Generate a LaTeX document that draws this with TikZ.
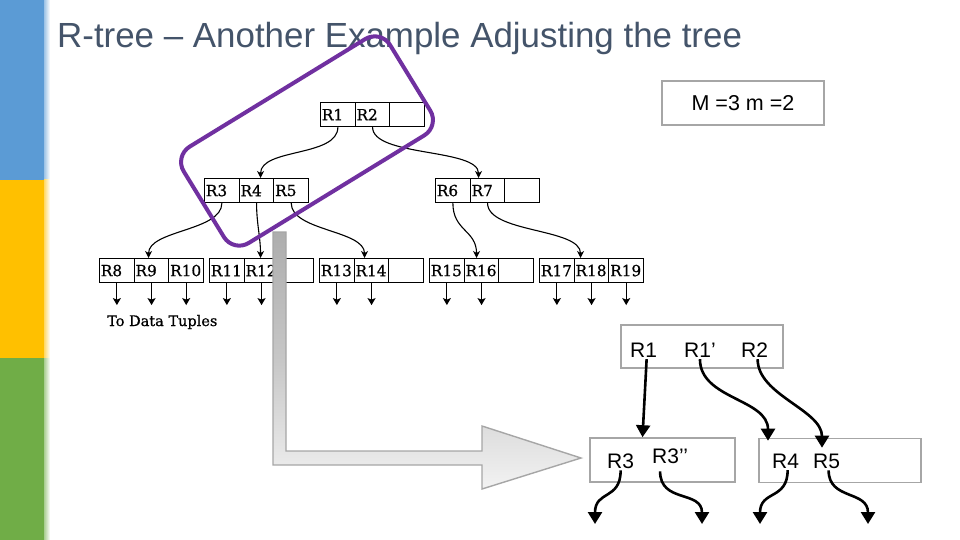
\documentclass[tikz,border=0pt]{standalone}
\usepackage{fontspec}
\setmainfont{Liberation Sans}
\newfontfamily\oldfont[FakeBold=0.8]{DejaVu Serif}
\usetikzlibrary{arrows.meta}
\definecolor{barblue}{HTML}{5B9BD5}
\definecolor{baryellow}{HTML}{FFC000}
\definecolor{bargreen}{HTML}{70AD47}
\definecolor{titlecol}{HTML}{44546A}
\definecolor{boxgray}{HTML}{A6A6A6}
\definecolor{selpurple}{HTML}{7030A0}
\tikzset{
  cellbox/.style={draw=black, line width=1.1pt, minimum height=24pt, text width=32pt,
    inner xsep=1.33pt, inner ysep=0pt, align=left, anchor=north west,
    font=\oldfont\fontsize{15.3}{17}\selectfont},
  treeedge/.style={draw=black, line width=1.1pt, -{Stealth[length=7pt,width=7pt,inset=2pt]}},
  dptr/.style={draw=black, line width=1.2pt, -{Stealth[length=7pt,width=8pt,inset=1.5pt]}},
  newbox/.style={draw=boxgray, line width=1.6pt, inner sep=0pt},
  newlabel/.style={inner sep=0pt, anchor=base west, font=\fontsize{21}{24}\selectfont},
  newedge/.style={draw=black, line width=2.6pt, -{Triangle[length=12pt,width=14pt]}},
}
\newcommand\mycell[4]{\node[cellbox] (#1) at (#2,#3) {#4};}
\begin{document}
\begin{tikzpicture}[x=1pt,y=-1pt]
\useasboundingbox (0,0) rectangle (960,540);
\fill[white] (0,0) rectangle (960,540);
% side bars
\fill[barblue] (0,0) rectangle (44,180);
\fill[baryellow] (0,180) rectangle (44,358);
\fill[bargreen] (0,358) rectangle (44,540);
\shade[left color=barblue!60, right color=white] (44,0) rectangle (50,180);
\shade[left color=baryellow!60, right color=white] (44,180) rectangle (50,358);
\shade[left color=bargreen!60, right color=white] (44,358) rectangle (50,540);
% title
\node[anchor=base west, inner sep=0pt, text=titlecol, font=\fontsize{34.9}{40}\selectfont] (title) at (57,48) {R-tree -- Another Example Adjusting the tree};
% M m box
\node[newbox, minimum width=162pt, minimum height=44pt, font=\fontsize{21.5}{24}\selectfont] (mbox) at (743,103) {M =3 m =2};
% old tree
\mycell{t1}{320}{102}{R1}
\mycell{t2}{354.67}{102}{R2}
\mycell{t3}{389.33}{102}{}
\mycell{a1}{204}{178}{R3}
\mycell{a2}{238.67}{178}{R4}
\mycell{a3}{273.33}{178}{R5}
\mycell{b1}{435}{178}{R6}
\mycell{b2}{469.67}{178}{R7}
\mycell{b3}{504.33}{178}{}
\mycell{c8}{99}{258}{R8}
\mycell{c9}{133.67}{258}{R9}
\mycell{c10}{168.33}{258}{R10}
\mycell{c11}{209}{258}{R11}
\mycell{c12}{243.67}{258}{R12}
\mycell{e12}{278.33}{258}{}
\mycell{c13}{319}{258}{R13}
\mycell{c14}{353.67}{258}{R14}
\mycell{e14}{388.33}{258}{}
\mycell{c15}{429}{258}{R15}
\mycell{c16}{463.67}{258}{R16}
\mycell{e16}{498.33}{258}{}
\mycell{c17}{539}{258}{R17}
\mycell{c18}{573.67}{258}{R18}
\mycell{c19}{608.33}{258}{R19}
\draw[treeedge] (t1.south) .. controls +(0,30) and +(0,-30) .. ([xshift=4pt]a2.north);
\draw[treeedge] (t2.south) .. controls +(0,30) and +(0,-30) .. ([xshift=-9pt]b2.north);
\draw[treeedge] (a1.south) .. controls +(0,28) and +(0,-28) .. ([xshift=-3pt]c9.north);
\draw[treeedge] (a2.south) .. controls +(0,20) and +(0,-20) .. ([xshift=-1pt]c12.north);
\draw[treeedge] (a3.south) .. controls +(0,28) and +(0,-28) .. ([xshift=-7pt]c14.north);
\draw[treeedge] (b1.south) .. controls +(0,28) and +(0,-28) .. ([xshift=-5pt]c16.north);
\draw[treeedge] (b2.south) .. controls +(0,30) and +(0,-30) .. ([xshift=-11pt]c18.north);
\foreach \c in {c8,c9,c10,c11,c12,c13,c14,c15,c16,c17,c18,c19}{
  \draw[dptr] (\c.south) -- ++(0,22);
}
\node[anchor=base west, inner sep=0pt, font=\oldfont\fontsize{14.5}{16}\selectfont] (tuples) at (107,326) {To Data Tuples};
% purple selection
\node[draw=selpurple, line width=4pt, rounded corners=18pt, minimum width=242pt, minimum height=113pt, rotate=31.5] (sel) at (307,141) {};
% gray bent arrow
\draw[draw=boxgray, line width=1.4pt, top color=black!32, bottom color=black!5, middle color=black!22]
  (273,232) -- (286,232) -- (286,451) -- (482,451) -- (482,426) -- (581,458) -- (482,489) -- (482,465)
  -- (273,465) [rounded corners=8pt] -- (273,300) [sharp corners] -- cycle;
% new tree
\node[newbox, minimum width=162pt, minimum height=43pt] (nb1) at (702,346.5) {};
\node[newbox, minimum width=145pt, minimum height=44pt] (nb2) at (662.5,460) {};
\node[newbox, minimum width=162pt, minimum height=44pt] (nb3) at (840,460.5) {};
\node[newlabel] (lR1) at (630,357) {R1};
\node[newlabel] (lR1p) at (684,357) {R1’};
\node[newlabel] (lR2) at (741,357) {R2};
\node[newlabel] (lR3) at (607,468) {R3};
\node[newlabel] (lR3p) at (652,463) {R3’’};
\node[newlabel] (lR4) at (772,468) {R4};
\node[newlabel] (lR5) at (813,468) {R5};
\coordinate (e3) at (595,524);
\coordinate (e3p) at (702,524);
\coordinate (e4) at (760,524);
\coordinate (e5) at (868,524);
\draw[newedge] ([xshift=3pt,yshift=-2pt]lR1.south) -- ([xshift=-20pt]nb2.north);
\draw[newedge] ([yshift=-2pt]lR1p.south) .. controls +(0,40) and +(0,-42) .. ([xshift=-72pt,yshift=-3pt]nb3.north);
\draw[newedge] ([xshift=3pt,yshift=-2pt]lR2.south) .. controls +(0,36) and +(0,-38) .. ([xshift=-18pt,yshift=-10pt]nb3.north);
\draw[newedge] ([yshift=-2pt]lR3.south) .. controls +(0,30) and +(0,-34) .. (e3);
\draw[newedge] ([xshift=-10pt,yshift=-8pt]lR3p.south) .. controls +(0,32) and +(0,-34) .. (e3p);
\draw[newedge] ([xshift=2pt,yshift=-2pt]lR4.south) .. controls +(0,30) and +(0,-34) .. (e4);
\draw[newedge] ([xshift=2pt,yshift=-2pt]lR5.south) .. controls +(0,30) and +(0,-34) .. (e5);
\end{tikzpicture}
\end{document}
